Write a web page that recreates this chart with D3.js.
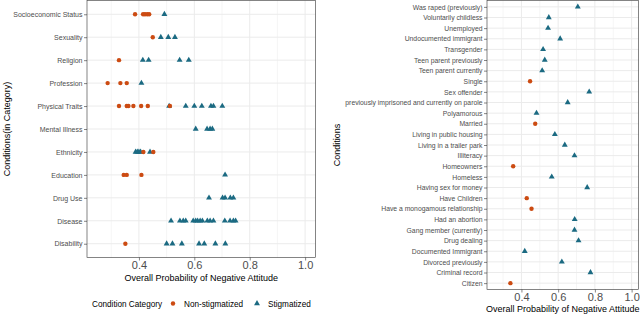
<!DOCTYPE html>
<html>
<head>
<meta charset="utf-8">
<script src="https://cdn.jsdelivr.net/npm/d3@7"></script>
<style>
  body { margin: 0; background: #fff; }
  svg { display: block; font-family: "Liberation Sans", Arial, sans-serif; }
</style>
</head>
<body>
<div id="container"></div>
<script>
// ---------------- data: left panel (by category) ----------------
const categories = ["Socioeconomic Status", "Sexuality", "Religion", "Profession", "Physical Traits",
  "Mental Illness", "Ethnicity", "Education", "Drug Use", "Disease", "Disability"];

const nonStigmatized = [
  [0.386, 0.415, 0.422, 0.430, 0.437],
  [0.450],
  [0.328],
  [0.287, 0.333, 0.356],
  [0.328, 0.356, 0.362, 0.380, 0.408, 0.432, 0.512],
  [],
  [0.416, 0.452],
  [0.345, 0.356, 0.409],
  [],
  [],
  [0.351]
];

const stigmatized = [
  [0.492],
  [0.479, 0.506, 0.530],
  [0.414, 0.435, 0.547, 0.580],
  [0.409],
  [0.509, 0.569, 0.600, 0.627, 0.660, 0.669, 0.701],
  [0.605, 0.646, 0.657, 0.665],
  [0.388, 0.394, 0.400, 0.406, 0.440],
  [0.711],
  [0.653, 0.702, 0.711, 0.730, 0.741],
  [0.516, 0.548, 0.560, 0.569, 0.596, 0.605, 0.612, 0.621, 0.629, 0.647, 0.657, 0.669, 0.710, 0.729, 0.741, 0.749],
  [0.500, 0.521, 0.555, 0.617, 0.636, 0.676, 0.712]
];

// ---------------- data: right panel (by condition) ----------------
const conditions = ["Was raped (previously)", "Voluntarily childless", "Unemployed", "Undocumented immigrant",
  "Transgender", "Teen parent previously", "Teen parent currently", "Single", "Sex offender",
  "previously imprisoned and currently on parole", "Polyamorous", "Married", "Living in public housing",
  "Living in a trailer park", "Illiteracy", "Homeowners", "Homeless", "Having sex for money", "Have Children",
  "Have a monogamous relationship", "Had an abortion", "Gang member (currently)", "Drug dealing",
  "Documented Immigrant", "Divorced previously", "Criminal record", "Citizen"];

const conditionValues = [0.707, 0.549, 0.545, 0.611, 0.518, 0.527, 0.513, 0.447, 0.769, 0.652, 0.482, 0.475,
  0.582, 0.636, 0.689, 0.355, 0.565, 0.758, 0.429, 0.455, 0.690, 0.689, 0.711, 0.418, 0.620, 0.776, 0.340];

const conditionGroups = ["S", "S", "S", "S", "S", "S", "S", "N", "S", "S", "S", "N", "S", "S", "S", "N", "S", "S",
  "N", "N", "S", "S", "S", "S", "S", "S", "N"];

// ---------------- axes / legend ----------------
const xLimits = [0.25, 1.0];
const xTicks = [0.4, 0.6, 0.8, 1.0];
const xMinorTicks = [0.3, 0.5, 0.7, 0.9];
const groupNames = { N: "Non-stigmatized", S: "Stigmatized" };

// ---------------- styling ----------------
const W = 640, H = 315;
const red = "#CC4B12";
const teal = "#1B6A82";
const grid = "#EBEBEB";
const labelGrey = "#4D4D4D";

const svg = d3.select("#container").append("svg")
  .attr("width", W)
  .attr("height", H);

// 5% expansion like ggplot
const span = xLimits[1] - xLimits[0];
const xDomain = [xLimits[0] - 0.05 * span, xLimits[1] + 0.05 * span];

const tri = d3.symbol().type(d3.symbolTriangle).size(15);

function drawPanel(cfg) {
  const x = d3.scaleLinear().domain(xDomain).range([cfg.left, cfg.right]);
  const y = d3.scalePoint().domain(cfg.cats).range([cfg.top, cfg.bottom]).padding(0.6);

  const g = svg.append("g");

  // grid
  g.selectAll(".minor").data(xMinorTicks).enter().append("line")
    .attr("x1", d => x(d)).attr("x2", d => x(d))
    .attr("y1", cfg.top).attr("y2", cfg.bottom)
    .attr("stroke", grid).attr("stroke-width", 0.5);
  g.selectAll(".major").data(xTicks).enter().append("line")
    .attr("x1", d => x(d)).attr("x2", d => x(d))
    .attr("y1", cfg.top).attr("y2", cfg.bottom)
    .attr("stroke", grid).attr("stroke-width", 1);
  g.selectAll(".hgrid").data(cfg.cats).enter().append("line")
    .attr("x1", cfg.left).attr("x2", cfg.right)
    .attr("y1", d => y(d)).attr("y2", d => y(d))
    .attr("stroke", grid).attr("stroke-width", 1);

  // points: stigmatized first, non-stigmatized on top
  const pts = cfg.points;
  g.selectAll(".tri").data(pts.filter(p => p.group === "S")).enter().append("path")
    .attr("d", tri)
    .attr("transform", p => "translate(" + x(p.v) + "," + y(p.cat) + ")")
    .attr("fill", teal);
  g.selectAll(".dot").data(pts.filter(p => p.group === "N")).enter().append("circle")
    .attr("cx", p => x(p.v)).attr("cy", p => y(p.cat))
    .attr("r", 2.2)
    .attr("fill", red);

  // border
  g.append("rect")
    .attr("x", cfg.left).attr("y", cfg.top)
    .attr("width", cfg.right - cfg.left).attr("height", cfg.bottom - cfg.top)
    .attr("fill", "none").attr("stroke", "#333").attr("stroke-width", 0.6);

  // y axis
  const yAxis = d3.axisLeft(y).tickSize(3).tickPadding(1.5);
  const ya = g.append("g").attr("transform", "translate(" + cfg.left + ",0)").call(yAxis);
  ya.select(".domain").remove();
  ya.selectAll("line").attr("stroke", "#333").attr("stroke-width", 0.6);
  ya.selectAll("text").attr("fill", labelGrey).style("font-size", cfg.yFont + "px")
    .style("font-family", "Liberation Sans, Arial, sans-serif");

  // x axis
  const xAxis = d3.axisBottom(x).tickValues(xTicks).tickFormat(d3.format(".1f")).tickSize(3).tickPadding(1);
  const xa = g.append("g").attr("transform", "translate(0," + cfg.bottom + ")").call(xAxis);
  xa.select(".domain").remove();
  xa.selectAll("line").attr("stroke", "#333").attr("stroke-width", 0.6);
  xa.selectAll("text").attr("fill", labelGrey).style("font-size", "11px")
    .style("font-family", "Liberation Sans, Arial, sans-serif");

  // titles
  g.append("text")
    .attr("x", (cfg.left + cfg.right) / 2).attr("y", cfg.xTitleY)
    .attr("text-anchor", "middle").style("font-size", "9px").attr("fill", "#000")
    .text("Overall Probability of Negative Attitude");
  g.append("text")
    .attr("transform", "translate(" + cfg.yTitleX + "," + ((cfg.top + cfg.bottom) / 2) + ") rotate(-90)")
    .attr("text-anchor", "middle").style("font-size", "9px").attr("fill", "#000")
    .text(cfg.yTitle);
}

// left panel points
const leftPoints = [];
categories.forEach((c, i) => {
  stigmatized[i].forEach(v => leftPoints.push({ cat: c, v: v, group: "S" }));
  nonStigmatized[i].forEach(v => leftPoints.push({ cat: c, v: v, group: "N" }));
});

drawPanel({
  cats: categories, points: leftPoints,
  left: 87, right: 315.5, top: 0.5, bottom: 257.5,
  yFont: 7, xTitleY: 281, yTitleX: 10, yTitle: "Conditions(in Category)"
});

// right panel points
const rightPoints = conditions.map((c, i) => ({ cat: c, v: conditionValues[i], group: conditionGroups[i] }));

drawPanel({
  cats: conditions, points: rightPoints,
  left: 487, right: 638.5, top: 0.5, bottom: 289.5,
  yFont: 6.8, xTitleY: 311.5, yTitleX: 340, yTitle: "Conditions"
});

// legend
const legend = svg.append("g").style("font-size", "8.2px");
legend.append("text").attr("x", 92).attr("y", 306.5).attr("fill", "#000").text("Condition Category");
legend.append("circle").attr("cx", 173).attr("cy", 303.5).attr("r", 2.2).attr("fill", red);
legend.append("text").attr("x", 184).attr("y", 306.5).attr("fill", "#000").text(groupNames.N);
legend.append("path").attr("d", tri).attr("transform", "translate(257,303.5)").attr("fill", teal);
legend.append("text").attr("x", 268).attr("y", 306.5).attr("fill", "#000").text(groupNames.S);
</script>
</body>
</html>
